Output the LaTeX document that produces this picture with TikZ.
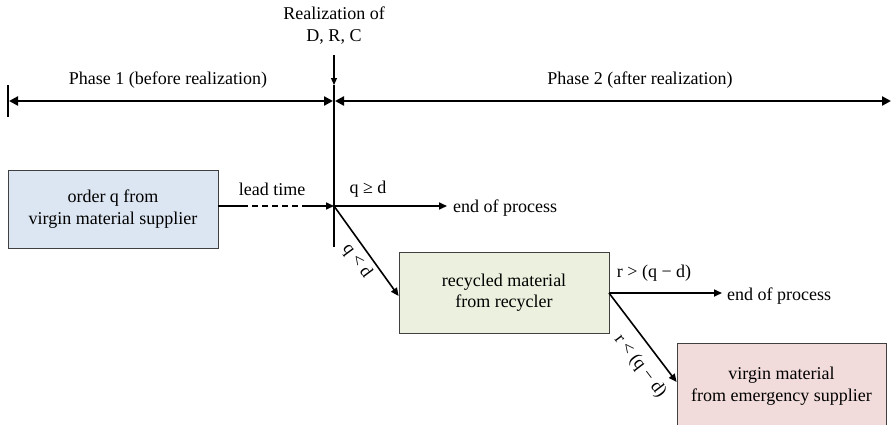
\documentclass[tikz,border=0pt]{standalone}
\usepackage{fontspec}
\setmainfont{Liberation Serif}
\usetikzlibrary{arrows.meta,calc}
\begin{document}
\begin{tikzpicture}[x=1pt,y=-1pt,
  txt/.style={font=\fontsize{18}{22}\selectfont, inner sep=1pt},
  box/.style={draw=black!75, line width=0.8pt, align=center, font=\fontsize{18}{21.5}\selectfont, inner sep=0pt},
  arr/.style={line width=1.6pt, -{Triangle[length=8pt,width=7pt]}},
  thick line/.style={line width=2.6pt}
]
\useasboundingbox (0,0) rectangle (891,424);
\definecolor{bluefill}{HTML}{DCE6F2}
\definecolor{greenfill}{HTML}{EBF1DE}
\definecolor{redfill}{HTML}{F2DCDB}

% title
\node[txt, align=center] (real) at (334,26) {Realization of\\D, R, C};
\coordinate (rtop) at (334,55);
\coordinate (vtop) at (334,85);
\coordinate (vbot) at (334,247);
\draw[line width=1.2pt, -{Triangle[length=7pt,width=6pt]}] (rtop) -- (vtop);

% timeline
\coordinate (tl) at (8,101);
\coordinate (tm) at (334,101);
\coordinate (tr) at (891,101);
\coordinate (tickT) at (8,85);
\coordinate (tickB) at (8,117);
\draw[thick line] (tickT) -- (tickB);
\draw[thick line] (vtop) -- (vbot);
\draw[line width=2.4pt, {Triangle[length=9pt,width=9pt]}-{Triangle[length=9pt,width=9pt]}] ($(tl)+(1,0)$) -- ($(tm)+(-1,0)$);
\draw[line width=2.4pt, {Triangle[length=9pt,width=9pt]}-{Triangle[length=9pt,width=9pt]}] ($(tm)+(1,0)$) -- (tr);
\node[txt] (ph1) at (168,80) {Phase 1 (before realization)};
\node[txt] (ph2) at (640,80) {Phase 2 (after realization)};

% boxes
\node[box, fill=bluefill, minimum width=210pt, minimum height=78pt] (b1) at (113,209) {order q from\\virgin material supplier};
\node[box, fill=greenfill, minimum width=210pt, minimum height=81pt] (b2) at (504,292.5) {recycled material\\from recycler};
\node[box, fill=redfill, minimum width=209pt, minimum height=86pt] (b3) at (781.5,386) {virgin material\\from emergency supplier};

% lead time arrow
\coordinate (J) at (334,206);
\coordinate (d1) at (242,206);
\coordinate (d2) at (306,206);
\draw[line width=1.6pt] (b1.east |- J) -- (d1);
\draw[line width=1.6pt, dash pattern=on 6pt off 4pt] (d1) -- (d2);
\draw[arr] (d2) -- (J);
\node[txt] (lt) at (272,189) {lead time};

% from junction
\coordinate (e1) at (447,206);
\draw[arr] (J) -- (e1);
\node[txt] (qgd) at (368,189) {q ≥ d};
\node[txt, anchor=west] (end1) at (452,208) {end of process};
\draw[arr] (J) -- (b2.west |- 0,296);
\node[txt, rotate=-53.4] (qld) at (357,261) {q < d};

% from recycler
\coordinate (b2out) at (609,293);
\coordinate (e2) at (722,293);
\draw[arr] (b2out) -- (e2);
\node[txt] (rgt) at (654,273) {r > (q − d)};
\node[txt, anchor=west] (end2) at (726,296) {end of process};
\draw[arr] (b2out) -- (b3.west |- 0,382);
\node[txt, rotate=-52.6] (rlt) at (640,366) {r < (q − d)};
\end{tikzpicture}
\end{document}
